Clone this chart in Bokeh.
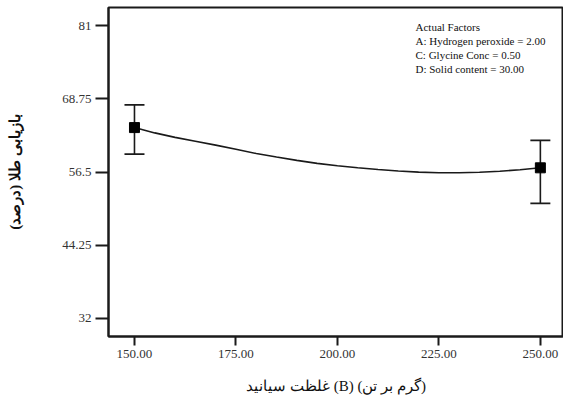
from bokeh.plotting import figure
from bokeh.models import (ColumnDataSource, Whisker, TeeHead, FixedTicker,
                          NumeralTickFormatter, Label, Range1d)
from bokeh.embed import file_html
from bokeh.resources import INLINE

# ---- data ----
design_x = [150, 250]
design_mean = [63.94, 57.2]
design_upper = [67.75, 61.8]
design_lower = [59.5, 51.25]

curve_x = [150, 155, 160, 165, 170, 175, 180, 185, 190, 195, 200,
           205, 210, 215, 220, 225, 230, 235, 240, 245, 250]
curve_y = [63.94, 63.05, 62.3, 61.65, 61.0, 60.3, 59.6, 59.0, 58.45, 57.95, 57.55,
           57.2, 56.93, 56.68, 56.48, 56.37, 56.37, 56.45, 56.63, 56.88, 57.2]

y_ticks = [32, 44.25, 56.5, 68.75, 81]
y_tick_labels = ["32", "44.25", "56.5", "68.75", "81"]
x_ticks = [150, 175, 200, 225, 250]

factor_lines = ["Actual Factors",
                "A: Hydrogen peroxide = 2.00",
                "C: Glycine Conc = 0.50",
                "D: Solid content = 30.00"]

# RTL embedding so the visual order is: غلظت سیانید (B) (گرم بر تن)
x_label = "\u202b(گرم بر تن) (B) غلظت سیانید\u202c"
y_label = "بازیابی طلا (درصد)\u200f"

SERIF = "Liberation Serif"
INK = "#1a1a1a"

p = figure(width=563, height=398, output_backend="svg", toolbar_location=None,
           x_range=Range1d(143.6, 255.7), y_range=Range1d(28.94, 84.06),
           min_border_left=108, min_border_right=0, min_border_top=7,
           min_border_bottom=62)

p.grid.visible = False
p.outline_line_color = INK
p.outline_line_width = 2
p.background_fill_color = "white"
p.border_fill_color = "white"

for ax in (p.xaxis[0], p.yaxis[0]):
    ax.axis_line_color = INK
    ax.axis_line_width = 2
    ax.major_tick_line_color = INK
    ax.major_tick_line_width = 2
    ax.major_tick_in = 0
    ax.minor_tick_line_color = None
    ax.major_label_text_font = SERIF
    ax.major_label_text_font_size = "13px"
    ax.major_label_text_color = "#333333"
    ax.major_label_standoff = 4
    ax.axis_label_text_font = SERIF
    ax.axis_label_text_font_style = "normal"
    ax.axis_label_text_color = "#111111"

p.xaxis.ticker = FixedTicker(ticks=x_ticks)
p.xaxis.formatter = NumeralTickFormatter(format="0.00")
p.xaxis.major_tick_out = 9
p.xaxis.axis_label = x_label
p.xaxis.axis_label_text_font_size = "15px"
p.xaxis.axis_label_standoff = 17

p.yaxis.ticker = FixedTicker(ticks=y_ticks)
p.yaxis.major_label_overrides = {t: l for t, l in zip(y_ticks, y_tick_labels)}
p.yaxis.major_tick_out = 13
p.yaxis.axis_label = y_label
p.yaxis.axis_label_text_font_size = "15px"
p.yaxis.axis_label_text_font_style = "bold"
p.yaxis.axis_label_standoff = 36

# curve
p.line(curve_x, curve_y, line_color=INK, line_width=1.6)

# error bars
src = ColumnDataSource(dict(x=design_x, mean=design_mean,
                            upper=design_upper, lower=design_lower))
whisk = Whisker(source=src, base="x", upper="upper", lower="lower",
                line_color=INK, line_width=1.6,
                upper_head=TeeHead(size=20, line_color=INK, line_width=1.6),
                lower_head=TeeHead(size=20, line_color=INK, line_width=1.6))
p.add_layout(whisk)
p.scatter("x", "mean", source=src, marker="square", size=10,
          fill_color="black", line_color="black")

# factor annotation (screen units relative to the plot frame)
y0 = 309.3
for i, line in enumerate(factor_lines):
    p.add_layout(Label(x=307, y=y0 - i * 13.9, x_units="screen", y_units="screen",
                       text=line, text_font=SERIF, text_font_size="11px",
                       text_color="#111111", text_baseline="middle",
                       text_align="left"))

open("out.html", "w").write(file_html(p, INLINE))
